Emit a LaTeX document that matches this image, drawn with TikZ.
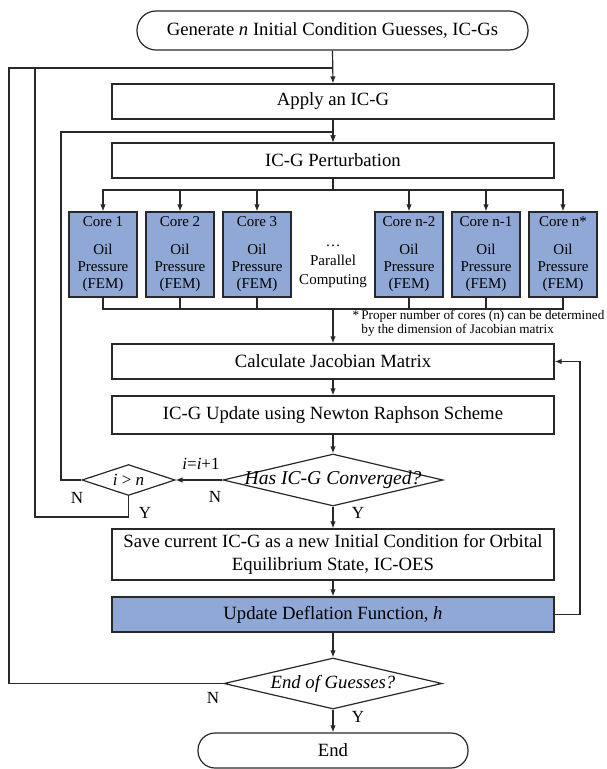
\documentclass[tikz,border=0pt]{standalone}
\usepackage{fontspec}
\setmainfont{Liberation Serif}
\usetikzlibrary{shapes.geometric,arrows.meta}
\definecolor{coreblue}{RGB}{143,168,214}
\definecolor{ln}{RGB}{40,40,40}
\begin{document}
\begin{tikzpicture}[x=1pt,y=-1pt,line width=1.2pt,draw=ln,
  box/.style={draw=ln,line width=1.2pt,fill=white,minimum height=35pt,minimum width=442pt,inner sep=0pt,align=center,font=\fontsize{18.7}{23}\selectfont},
  term/.style={box,rounded corners=17pt},
  corebox/.style={draw=ln,line width=1.2pt,fill=coreblue,minimum width=68pt,minimum height=85pt,inner sep=0pt,align=center,font=\fontsize{15}{17}\selectfont},
  dec/.style={diamond,draw=ln,line width=1.2pt,fill=white,inner sep=0pt,font=\fontsize{18.7}{22}\selectfont\itshape},
  lbl/.style={inner sep=0pt,font=\fontsize{17}{20}\selectfont},
  arr/.style={-{Latex[length=7pt,width=5.5pt]}}]
\useasboundingbox (0,0) rectangle (607,769);

% nodes
\node[term,minimum width=391pt,minimum height=39pt,rounded corners=19pt] (start) at (332.5,30.5) {Generate \textit{n} Initial Condition Guesses, IC-Gs};
\node[box] (apply) at (333,101.5) {Apply an IC-G};
\node[box] (pert) at (333,160.5) {IC-G Perturbation};
\node[corebox] (c1) at (103,254.5) {Core 1\\[11pt]Oil\\Pressure\\(FEM)};
\node[corebox] (c2) at (180,254.5) {Core 2\\[11pt]Oil\\Pressure\\(FEM)};
\node[corebox] (c3) at (257,254.5) {Core 3\\[11pt]Oil\\Pressure\\(FEM)};
\node[corebox] (c4) at (409,254.5) {Core n-2\\[11pt]Oil\\Pressure\\(FEM)};
\node[corebox] (c5) at (486,254.5) {Core n-1\\[11pt]Oil\\Pressure\\(FEM)};
\node[corebox] (c6) at (563,254.5) {Core n*\\[11pt]Oil\\Pressure\\(FEM)};
\node[align=center,inner sep=0pt,font=\fontsize{15}{19}\selectfont] (par) at (333,266) {\ldots\\Parallel\\Computing};
\node[anchor=north west,align=left,inner sep=0pt,font=\fontsize{13.2}{12}\selectfont] (note) at (352,310) {*\,Proper number of cores (n) can be determined\\\phantom{*\,}by the dimension of Jacobian matrix};
\node[box] (jac) at (333,361.5) {Calculate Jacobian Matrix};
\node[box,minimum height=38pt] (newt) at (333,415) {IC-G Update using Newton Raphson Scheme};
\node[dec,minimum width=220pt,minimum height=52pt,font=\fontsize{19.6}{22}\selectfont\itshape] (conv) at (333,480) {\makebox[0pt]{Has IC-G Converged?}};
\node[dec,minimum width=93pt,minimum height=31pt,font=\fontsize{17}{20}\selectfont] (gt) at (128.5,480) {\makebox[0pt]{\textit{i} > \textit{n}}};
\node[box,minimum height=51pt] (save) at (333,554.5) {Save current IC-G as a new Initial Condition for Orbital\\Equilibrium State, IC-OES};
\node[box,fill=coreblue] (defl) at (333,614.5) {Update Deflation Function, \textit{h}};
\node[dec,minimum width=218pt,minimum height=51pt] (eog) at (333,683.5) {\makebox[0pt]{End of Guesses?}};
\node[term,minimum width=270pt,minimum height=35pt] (end) at (333,750.5) {End};

% labels
\node[lbl] (lgtn) at (77,498) {N};
\node[lbl] (lgty) at (145,513) {Y};
\node[lbl] (linc) at (201,464) {\textit{i}=\textit{i}+1};
\node[lbl] (lcn) at (215,497) {N};
\node[lbl] (lcy) at (358,513) {Y};
\node[lbl] (len) at (213,698) {N};
\node[lbl] (ley) at (358,717) {Y};

% coordinates
\coordinate (jtop) at (333,68);
\coordinate (lout) at (9,68);
\coordinate (lin) at (35,68);
\coordinate (linb) at (35,517);
\coordinate (pl) at (61,132);
\coordinate (pt) at (333,132);
\coordinate (dist) at (333,190);
\coordinate (col) at (333,309);
\coordinate (rc) at (580,361.5);

% connectors
\draw[arr] (start.south) -- (apply.north);
\draw (eog.west) -| (lout) -- (jtop);
\draw (gt.south) |- (linb) -- (lin);
\draw[arr] (apply.south) -- (pert.north);
\draw[arr] (gt.west) -| (pl) -- (pt) -- (pert.north);
\draw (pert.south) -- (dist);
\foreach \c in {c1,c2,c3,c4,c5,c6}{
  \draw[arr] (dist) -| (\c.north);
  \draw (\c.south) |- (col);
}
\draw[arr] (col) -- (jac.north);
\draw[arr] (jac.south) -- (newt.north);
\draw[arr] (newt.south) -- (conv.north);
\draw[arr] (conv.west) -- (gt.east);
\draw[arr] (conv.south) -- (save.north);
\draw[arr] (save.south) -- (defl.north);
\draw[arr] (defl.south) -- (eog.north);
\draw[arr] (eog.south) -- (end.north);
\draw[arr] (defl.east) -| (rc) -- (jac.east);
\end{tikzpicture}
\end{document}
